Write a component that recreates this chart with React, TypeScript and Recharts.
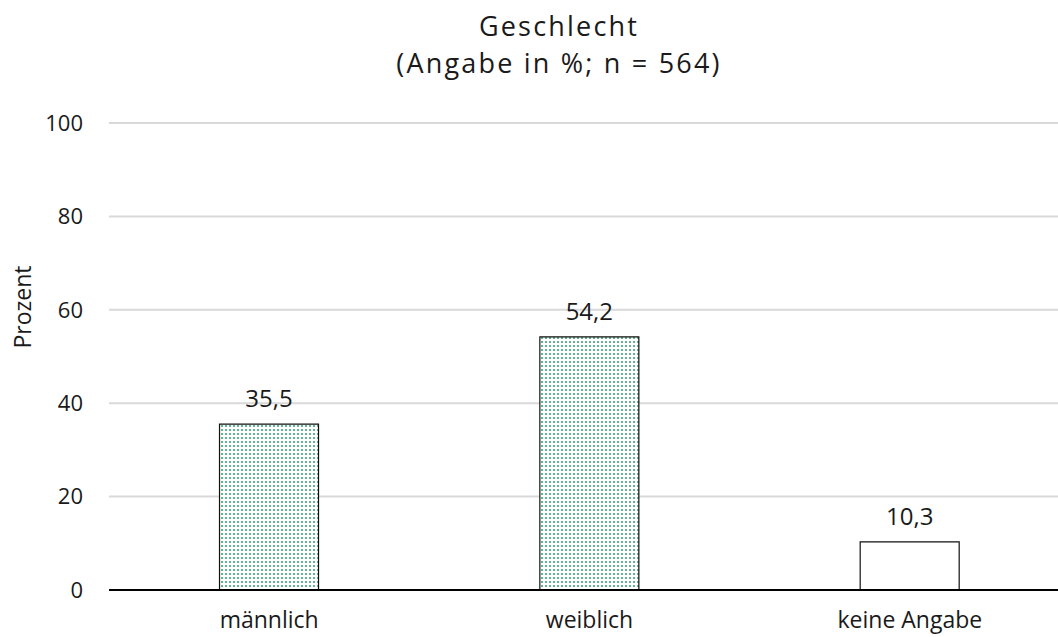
import React from 'react';
import { BarChart, Bar, XAxis, YAxis, CartesianGrid, LabelList, Cell } from 'recharts';

const categories = ['männlich', 'weiblich', 'keine Angabe'];
const percentages = [35.5, 54.2, 10.3];
const patterned = [true, true, false];
const yTicks = [0, 20, 40, 60, 80, 100];

const data = categories.map((name, i) => ({ name, value: percentages[i] }));

const FONT = '"Open Sans", "Noto Sans", sans-serif';

const titleLine: React.CSSProperties = {
  position: 'absolute', left: 0, width: 1118, textAlign: 'center',
  fontSize: 27, lineHeight: '34px', letterSpacing: 2.2, color: '#1a1a1a', whiteSpace: 'nowrap',
};

export default function App() {
  return (
    <div style={{ position: 'absolute', left: 0, top: 0, width: 1058, height: 637, overflow: 'hidden', background: '#fff', fontFamily: FONT }}>
      <div style={{ ...titleLine, top: 9 }}>Geschlecht</div>
      <div style={{ ...titleLine, top: 46 }}>(Angabe in %; n = 564)</div>
      <div style={{ position: 'absolute', left: 22, top: 307, transform: 'translate(-50%, -50%) rotate(-90deg)', fontSize: 23, lineHeight: '28px', color: '#1a1a1a', whiteSpace: 'nowrap' }}>
        Prozent
      </div>
      <BarChart
        width={1080}
        height={637}
        data={data}
        margin={{ top: 123, right: 10, bottom: 0, left: 0 }}
        barCategoryGap="34.5%"
        style={{ position: 'absolute', left: 0, top: 0 }}
      >
        <defs>
          <pattern id="dots" width="4" height="4" patternUnits="userSpaceOnUse">
            <rect width="4" height="4" fill="#ffffff" />
            <rect x="1" y="1" width="2" height="2" fill="#63b591" />
          </pattern>
        </defs>
        <CartesianGrid vertical={false} stroke="#d9d9d9" strokeWidth={2} />
        <XAxis
          dataKey="name"
          height={47}
          axisLine={{ stroke: '#000', strokeWidth: 2 }}
          tickLine={false}
          tickSize={0}
          tickMargin={22}
          tick={{ fill: '#1a1a1a', fontSize: 23, fontFamily: FONT }}
        />
        <YAxis
          width={109}
          domain={[0, 100]}
          ticks={yTicks}
          axisLine={false}
          tickLine={false}
          tickSize={0}
          tickMargin={26}
          tick={{ fill: '#1a1a1a', fontSize: 22, fontFamily: FONT }}
        />
        <Bar dataKey="value" isAnimationActive={false} stroke="#111" strokeWidth={1.2}>
          {data.map((d, i) => (
            <Cell key={d.name} fill={patterned[i] ? 'url(#dots)' : '#ffffff'} />
          ))}
          <LabelList
            dataKey="value"
            position="top"
            offset={17}
            formatter={(v: any) => String(v).replace('.', ',')}
            style={{ fill: '#1a1a1a', fontSize: 24, fontFamily: FONT }}
          />
        </Bar>
      </BarChart>
    </div>
  );
}
